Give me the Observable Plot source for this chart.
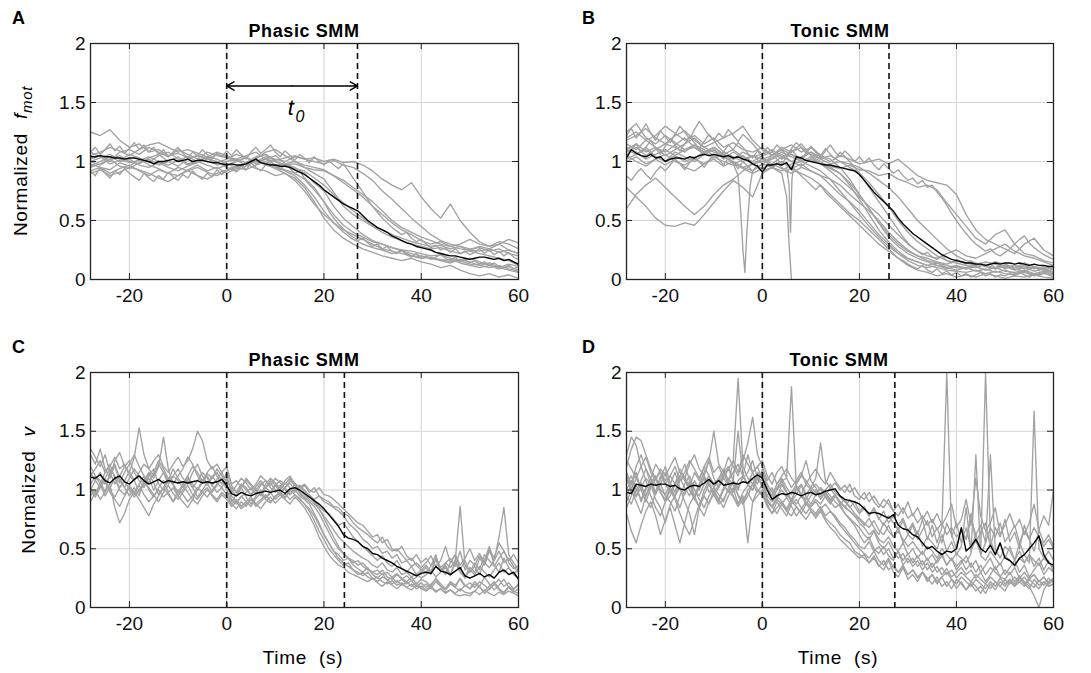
<!DOCTYPE html>
<html><head><meta charset="utf-8">
<script src="https://cdn.jsdelivr.net/npm/d3@7"></script>
<script src="https://cdn.jsdelivr.net/npm/@observablehq/plot@0.6"></script>
<style>
body{margin:0;background:#fff;}
#fig{position:relative;width:1091px;height:673px;font-family:"Liberation Sans",Arial,sans-serif;}
.panel{position:absolute;}
#overlay{position:absolute;left:0;top:0;pointer-events:none;}
#overlay text{font-family:"Liberation Sans",Arial,sans-serif;fill:#000;}
</style></head>
<body><div id="fig"></div>
<script>
// ---------- sample times ----------
const T2 = [-28,-26,-24,-22,-20,-18,-16,-14,-12,-10,-8,-6,-4,-2,0,2,4,6,8,10,12,14,16,18,20,22,24,26,28,30,32,34,36,38,40,42,44,46,48,50,52,54,56,58,60];
const T1 = [-28,-27,-26,-25,-24,-23,-22,-21,-20,-19,-18,-17,-16,-15,-14,-13,-12,-11,-10,-9,-8,-7,-6,-5,-4,-3,-2,-1,0,1,2,3,4,5,6,7,8,9,10,11,12,13,14,15,16,17,18,19,20,21,22,23,24,25,26,27,28,29,30,31,32,33,34,35,36,37,38,39,40,41,42,43,44,45,46,47,48,49,50,51,52,53,54,55,56,57,58,59,60];

// ---------- axis ticks & annotations ----------
const xTicks = [-20,0,20,40,60];
const yTicks = [0,0.5,1,1.5,2];
const xGrid = [-20,0,20,40];
const yGrid = [0.5,1,1.5];
const onsetA = [0, 26.9], onsetB = [0, 26.1], onsetC = [0, 24.2], onsetD = [0, 27.3];
const arrowLevel = 1.64;
const t0Label = {x: 13.2, y: 1.45};

// ---------- Panel A: Phasic SMM, normalized f_mot ----------
const meanA = [1.04,1.04,1.05,1.04,1.04,1.03,1.03,1.02,1.03,
1.03,1.02,1.01,1.00,0.98,1.00,1.00,1.01,1.02,1.00,
1.01,1.02,1.00,1.01,1.01,1.00,0.99,0.99,0.98,0.97,
0.98,0.97,0.97,0.98,1.00,1.02,0.99,0.98,0.97,0.97,
0.96,0.96,0.95,0.93,0.91,0.89,0.86,0.83,0.80,0.76,
0.73,0.70,0.67,0.64,0.62,0.60,0.58,0.54,0.50,0.47,
0.44,0.42,0.40,0.37,0.35,0.33,0.31,0.30,0.28,0.27,
0.26,0.25,0.23,0.22,0.21,0.20,0.20,0.19,0.18,0.17,
0.18,0.19,0.19,0.18,0.17,0.18,0.16,0.17,0.15,0.13];
const grayA = [
[1.25,1.22,1.27,1.18,1.12, 1.15,1.08,1.10,1.05,1.07, 1.03,1.05,1.02,1.06,1.04, 1.02,1.05,1.08,1.02,1.05, 0.98,0.95,0.90,0.82,0.75, 0.62,0.52,0.45,0.38,0.33, 0.30,0.27,0.24,0.22,0.20, 0.18,0.17,0.15,0.16,0.13, 0.12,0.10,0.12,0.09,0.07],
[1.00,0.97,1.02,1.05,1.00, 0.98,1.03,1.06,1.00,0.96, 1.02,1.05,1.03,0.99,1.02, 1.06,1.03,1.00,1.04,1.02, 1.00,1.04,1.02,1.03,1.00, 1.02,0.99,1.00,0.97,0.92, 0.85,0.80,0.76,0.82,0.70, 0.60,0.52,0.64,0.50,0.40, 0.32,0.28,0.30,0.25,0.22],
[0.95,0.98,1.02,0.96,0.94, 0.99,1.02,0.97,1.00,1.04, 0.98,1.01,1.03,0.97,1.00, 1.02,0.99,1.04,1.06,1.01, 1.03,1.05,1.02,1.00,0.98, 1.01,0.97,0.95,0.90,0.84, 0.75,0.68,0.60,0.52,0.45, 0.38,0.33,0.30,0.28,0.26, 0.27,0.24,0.26,0.22,0.20],
[1.02,1.05,1.00,1.08,1.10, 1.06,1.12,1.08,1.04,1.10, 1.06,1.02,1.08,1.05,1.03, 1.00,1.04,0.98,1.02,1.00, 0.97,0.98,0.95,0.93,0.92, 0.88,0.84,0.78,0.72,0.66, 0.58,0.50,0.44,0.40,0.36, 0.33,0.30,0.28,0.26,0.25, 0.24,0.26,0.23,0.25,0.22],
[0.92,0.95,0.90,0.94,0.97, 0.92,0.88,0.93,0.90,0.95, 0.92,0.88,0.85,0.90,0.93, 0.96,0.98,0.94,0.92,0.88, 0.90,0.86,0.78,0.66,0.52, 0.42,0.35,0.30,0.26,0.23, 0.20,0.18,0.16,0.18,0.15, 0.13,0.10,0.12,0.08,0.05, 0.03,0.05,0.02,0.04,0.01],
[0.98,0.95,0.93,0.99,0.96, 1.02,0.97,0.94,0.90,0.88, 0.93,0.97,0.92,0.95,0.90, 0.94,0.98,1.01,0.97,0.95, 0.92,0.88,0.80,0.70,0.58, 0.48,0.40,0.34,0.30,0.27, 0.25,0.22,0.24,0.20,0.18, 0.19,0.16,0.14,0.17,0.15, 0.12,0.14,0.10,0.08,0.06],
[1.05,1.08,1.12,1.09,1.05, 1.10,1.14,1.16,1.12,1.08, 1.10,1.07,1.04,1.02,0.98, 0.95,0.99,1.02,1.08,1.10, 1.05,1.00,0.95,0.90,0.85, 0.74,0.62,0.55,0.50,0.45, 0.40,0.36,0.33,0.30,0.28, 0.26,0.27,0.24,0.22,0.25, 0.28,0.26,0.30,0.34,0.31],
[0.90,0.93,0.88,0.91,0.95, 0.93,0.90,0.86,0.83,0.88, 0.92,0.95,0.91,0.88,0.92, 0.95,0.93,0.97,1.00,0.96, 0.93,0.90,0.85,0.76,0.66, 0.55,0.46,0.40,0.36,0.32, 0.30,0.27,0.25,0.24,0.22, 0.20,0.21,0.18,0.16,0.18, 0.15,0.12,0.10,0.13,0.11],
[1.08,1.04,0.98,1.01,1.06, 1.03,0.99,1.05,1.08,1.02, 0.97,1.00,1.04,1.08,1.05, 1.01,0.97,1.03,1.06,1.00, 0.97,0.94,0.92,0.86,0.80, 0.72,0.65,0.58,0.52,0.46, 0.42,0.38,0.35,0.32,0.30, 0.28,0.29,0.26,0.28,0.24, 0.22,0.20,0.18,0.16,0.12],
[0.96,1.00,1.04,1.00,1.02, 0.97,0.95,0.99,0.95,0.92, 0.96,0.99,1.02,1.00,0.95, 0.92,0.96,1.00,0.98,0.94, 0.90,0.84,0.75,0.64,0.55, 0.48,0.42,0.38,0.34,0.30, 0.26,0.24,0.22,0.20,0.19, 0.18,0.16,0.17,0.14,0.12, 0.10,0.12,0.09,0.11,0.08],
[1.00,1.03,1.06,1.02,0.99, 1.01,1.04,1.00,0.97,1.01, 1.04,1.00,0.97,0.94,0.97, 1.00,1.03,1.00,1.02,0.97, 0.98,1.00,0.97,0.95,0.93, 0.88,0.82,0.76,0.70,0.62, 0.55,0.48,0.42,0.38,0.33, 0.30,0.32,0.28,0.30,0.34, 0.30,0.28,0.32,0.30,0.26]
];
const grayA1s = [
[0.92,0.88,0.95,0.90,0.86,0.92,0.89,0.94,0.90, 0.87,0.84,0.90,0.86,0.83,0.88,0.85,0.91,0.87,0.84, 0.89,0.86,0.92,0.88,0.85,0.90,0.87,0.93,0.89,0.92, 0.95,0.91,0.97,0.93,0.99,0.95,0.92,0.97,1.01,0.96, 0.93,0.98,0.94,0.90,0.92,0.86,0.82,0.78,0.72,0.66, 0.58,0.52,0.47,0.43,0.39,0.36,0.33,0.35,0.31,0.28, 0.30,0.26,0.28,0.24,0.22,0.25,0.21,0.19,0.22,0.18, 0.20,0.17,0.19,0.21,0.18,0.16,0.19,0.15,0.17,0.14, 0.16,0.13,0.15,0.12,0.14,0.11,0.10,0.12,0.09,0.11],
[1.08,1.12,1.06,1.10,1.15,1.09,1.13,1.07,1.11, 1.16,1.10,1.14,1.08,1.12,1.06,1.10,1.04,1.08,1.12, 1.07,1.03,1.08,1.05,1.10,1.06,1.02,1.07,1.04,1.09, 1.05,1.10,1.06,1.02,1.08,1.12,1.07,1.10,1.14,1.08, 1.04,1.09,1.05,1.01,1.06,1.03,0.99,1.04,1.00,0.97, 1.01,0.97,0.94,0.98,0.92,0.86,0.80,0.74,0.68,0.62, 0.57,0.52,0.48,0.44,0.41,0.38,0.40,0.35,0.32,0.34, 0.30,0.27,0.29,0.25,0.27,0.23,0.26,0.22,0.24,0.21, 0.23,0.26,0.22,0.25,0.21,0.24,0.20,0.23,0.19,0.17]
];

// ---------- Panel B: Tonic SMM, normalized f_mot ----------
const meanB = [1.03,1.10,1.07,1.05,1.04,1.06,1.03,1.04,1.00,
1.02,1.03,1.03,1.02,1.04,1.03,1.05,1.06,1.05,1.06,
1.05,1.04,1.05,1.03,1.04,1.02,1.01,0.98,0.96,0.91,
0.97,0.97,0.98,0.97,0.99,0.93,1.04,1.03,1.01,1.00,
0.99,0.98,0.97,0.97,0.96,0.95,0.94,0.93,0.92,0.89,
0.84,0.79,0.74,0.70,0.66,0.62,0.58,0.52,0.47,0.43,
0.39,0.36,0.33,0.30,0.27,0.24,0.21,0.19,0.17,0.16,
0.15,0.14,0.14,0.13,0.13,0.12,0.13,0.14,0.13,0.14,
0.14,0.13,0.14,0.13,0.12,0.13,0.12,0.12,0.11,0.11];
const grayB = [
[1.20,1.25,1.18,1.22,1.30, 1.24,1.18,1.22,1.15,1.20, 1.12,1.16,1.10,1.08,1.12, 1.05,1.10,1.14,1.08,1.12, 1.05,1.02,0.95,0.85,0.72, 0.60,0.48,0.38,0.30,0.24, 0.20,0.16,0.14,0.12,0.10, 0.09,0.11,0.08,0.10,0.07, 0.06,0.08,0.05,0.07,0.06],
[0.60,0.72,0.80,0.86,0.78, 0.70,0.62,0.55,0.62,0.72, 0.80,0.85,0.92,0.98,1.02, 0.98,1.04,1.00,0.96,1.02, 0.98,0.94,0.90,0.82,0.72, 0.60,0.48,0.36,0.28,0.22, 0.18,0.15,0.12,0.10,0.08, 0.10,0.07,0.09,0.06,0.08, 0.05,0.07,0.04,0.06,0.05],
[0.78,0.70,0.62,0.52,0.46, 0.45,0.48,0.46,0.55,0.65, 0.75,0.84,0.78,0.70,0.90, 0.95,0.92,0.98,1.00,0.96, 0.92,0.85,0.75,0.65,0.55, 0.45,0.36,0.28,0.22,0.18, 0.15,0.12,0.14,0.10,0.12, 0.09,0.11,0.08,0.10,0.12, 0.09,0.07,0.10,0.08,0.06],
[1.10,1.15,1.08,1.12,1.05, 1.10,1.15,1.20,1.12,1.08, 1.05,0.98,0.95,0.92,0.98, 1.02,1.06,1.00,1.04,1.08, 1.02,1.05,1.00,0.98,0.95, 0.90,0.84,0.78,0.70,0.60, 0.50,0.42,0.34,0.26,0.20, 0.16,0.14,0.12,0.15,0.13, 0.10,0.12,0.09,0.11,0.08],
[1.08,1.12,1.05,1.10,1.15, 1.12,1.08,1.14,1.10,1.05, 1.08,1.04,1.00,1.05,1.02, 1.05,1.10,1.06,1.02,1.08, 1.04,1.00,1.05,1.02,0.98, 1.00,1.02,0.98,1.02,0.95, 0.88,0.84,0.82,0.80,0.72, 0.55,0.42,0.34,0.30,0.26, 0.22,0.30,0.35,0.25,0.20],
[1.02,1.06,1.10,1.04,1.00, 1.05,1.10,1.12,1.08,1.03, 1.06,1.02,1.05,0.98,1.00, 1.03,1.08,1.04,1.00,1.02, 0.98,0.96,0.94,0.97,0.93, 0.92,0.88,0.90,0.85,0.82, 0.78,0.80,0.76,0.65,0.55, 0.45,0.35,0.30,0.38,0.42, 0.30,0.22,0.20,0.16,0.14],
[1.12,1.08,1.02,1.06,1.10, 1.05,1.00,1.03,1.08,1.12, 1.06,1.02,1.08,1.04,1.06, 1.10,1.04,1.08,1.12,1.06, 1.02,0.98,1.00,0.95,0.90, 0.82,0.72,0.62,0.50,0.40, 0.32,0.26,0.20,0.16,0.14, 0.12,0.10,0.13,0.09,0.11, 0.08,0.10,0.07,0.09,0.06],
[1.05,1.00,0.96,1.02,1.06, 1.00,0.97,1.02,0.98,1.04, 1.00,0.97,1.02,1.05,0.98, 0.95,1.00,0.94,0.90,0.86, 0.80,0.72,0.64,0.56,0.50, 0.42,0.34,0.26,0.18,0.12, 0.08,0.06,0.03,0.05,0.02, 0.04,0.02,0.05,0.03,0.01, 0.03,0.02,0.04,0.02,0.01],
[1.18,1.22,1.28,1.20,1.15, 1.22,1.26,1.18,1.12,1.16, 1.20,1.24,1.30,1.18,1.10, 1.05,1.12,1.08,1.15,1.05, 1.00,0.95,0.90,0.80,0.68, 0.55,0.42,0.32,0.24,0.18, 0.15,0.12,0.10,0.08,0.07, 0.06,0.08,0.05,0.07,0.05, 0.04,0.06,0.03,0.05,0.04],
[1.00,1.04,0.98,1.02,0.97, 1.02,0.95,0.92,0.98,1.02, 0.96,1.00,0.94,0.90,0.94, 0.98,0.94,0.90,0.95,0.92, 0.88,0.85,0.80,0.72,0.65, 0.58,0.50,0.40,0.32,0.25, 0.20,0.18,0.15,0.13,0.16, 0.14,0.12,0.15,0.13,0.10, 0.12,0.09,0.11,0.08,0.10],
[1.25,1.32,1.20,1.15,1.22, 1.16,1.10,1.14,1.08,1.12, 1.06,1.10,1.04,1.00,1.05, 1.08,1.02,1.06,1.00,1.04, 0.98,0.92,0.85,0.78,0.70, 0.62,0.55,0.46,0.38,0.30, 0.24,0.20,0.18,0.22,0.25, 0.20,0.18,0.22,0.26,0.30, 0.24,0.20,0.18,0.15,0.12],
[1.10,1.06,1.12,1.04,1.00, 1.08,1.04,1.00,1.06,1.10, 1.02,1.08,1.03,0.98,1.02, 0.96,1.00,0.94,0.98,0.92, 0.88,0.80,0.72,0.66,0.58, 0.48,0.38,0.30,0.22,0.16, 0.12,0.10,0.12,0.09,0.11, 0.10,0.13,0.11,0.09,0.12, 0.10,0.14,0.11,0.09,0.12]
];
const grayB1s = [
[1.22,1.28,1.20,1.25,1.32,1.24,1.18,1.26,1.21, 1.16,1.23,1.30,1.25,1.19,1.27,1.34,1.28,1.22,1.18, 1.24,1.20,1.27,1.22,1.17,1.23,1.19,1.15,1.10,1.06, 1.12,1.08,1.14,1.10,1.05,1.11,1.16,1.12,1.07,1.13, 1.09,1.05,1.11,1.06,1.02,1.08,1.04,1.00,0.95,0.90, 0.84,0.78,0.72,0.66,0.60,0.54,0.48,0.42,0.36,0.31, 0.27,0.24,0.21,0.23,0.19,0.17,0.20,0.16,0.14,0.17, 0.15,0.13,0.16,0.12,0.14,0.11,0.13,0.10,0.12,0.09, 0.11,0.08,0.10,0.12,0.09,0.11,0.08,0.10,0.07,0.09],
[1.05,1.10,1.15,1.08,1.12,1.18,1.11,1.06,1.13, 1.19,1.14,1.09,1.15,1.21,1.16,1.11,1.17,1.23,1.18, 1.12,1.08,1.14,1.10,1.16,1.12,1.07,1.03,1.09,1.04, 1.00,1.06,1.02,0.98,1.04,1.10,1.05,1.01,1.07,1.12, 1.08,1.03,1.09,1.14,1.08,1.04,1.09,1.05,1.00,1.04, 0.99,1.03,0.97,0.93,0.98,0.94,0.90,0.93,0.88,0.84, 0.86,0.81,0.84,0.78,0.80,0.74,0.69,0.63,0.56,0.50, 0.44,0.39,0.34,0.30,0.27,0.24,0.26,0.22,0.20,0.23, 0.26,0.30,0.34,0.37,0.31,0.27,0.24,0.21,0.19,0.17],
[0.88,0.84,0.90,0.94,0.89,0.85,0.91,0.96,0.92, 0.97,1.02,0.98,0.93,0.99,1.04,1.00,0.95,1.01,1.06, 1.02,0.97,1.03,0.99,0.94,1.00,0.96,0.92,0.97,0.93, 0.98,0.94,0.99,0.95,0.91,0.96,0.92,0.88,0.84,0.80, 0.76,0.80,0.74,0.70,0.66,0.62,0.58,0.54,0.50,0.46, 0.42,0.38,0.34,0.30,0.27,0.24,0.21,0.18,0.16,0.13, 0.11,0.09,0.12,0.08,0.06,0.09,0.05,0.07,0.04,0.06, 0.03,0.05,0.02,0.04,0.06,0.03,0.05,0.02,0.04,0.03, 0.05,0.03,0.06,0.04,0.02,0.05,0.03,0.06,0.04,0.02]
];
// traces of panel B sampled at their own times
const extraBTimes = [
[-28,-26,-24,-22,-20,-18,-16,-14,-12,-10,-8,-6,-4,-2,0,2,4,5,5.5,6],
[-6,-5,-4.5,-4,-3.6,-3.2,-2.5,-2],
[5,5.5,5.8,6.1,6.5]
];
const extraBValues = [
[1.15,1.10,1.18,1.12,1.08,1.14,1.20,1.12,1.06,1.10,1.04,1.00,0.95,0.98,0.92,0.95,0.90,0.70,0.30,0.00],
[0.98,0.88,0.60,0.25,0.06,0.40,0.80,0.92],
[0.95,0.80,0.40,0.85,0.98]
];

// ---------- Panel C: Phasic SMM, normalized v ----------
const meanC = [1.11,1.10,1.13,1.08,1.06,1.10,1.12,1.07,1.05,
1.09,1.12,1.08,1.05,1.07,1.09,1.06,1.08,1.07,1.06,
1.07,1.06,1.07,1.08,1.06,1.07,1.06,1.07,1.09,1.04,
0.97,0.95,0.98,0.96,0.95,0.97,0.98,0.99,0.98,0.99,
1.00,0.97,1.01,1.02,1.00,0.97,0.94,0.91,0.88,0.84,
0.79,0.74,0.69,0.62,0.59,0.58,0.56,0.52,0.50,0.46,
0.45,0.42,0.40,0.38,0.35,0.33,0.31,0.29,0.27,0.29,
0.30,0.29,0.35,0.31,0.30,0.28,0.31,0.34,0.27,0.25,
0.27,0.29,0.26,0.28,0.25,0.30,0.32,0.28,0.30,0.24];
const grayC = [
[1.30,1.22,1.35,1.18,1.10,1.25,1.32,1.20,1.15, 1.28,1.53,1.30,1.18,1.12,1.22,1.15,1.08,1.18,1.10, 1.05,1.12,1.20,1.15,1.08,1.14,1.10,1.18,1.12,1.08, 1.02,0.98,1.05,1.00,0.96,1.03,1.08,1.02,0.98,1.05, 1.00,1.06,1.02,0.98,1.04,1.00,0.95,0.90,0.84,0.76, 0.68,0.60,0.52,0.46,0.42,0.38,0.40,0.35,0.32,0.30, 0.28,0.32,0.26,0.24,0.28,0.25,0.22,0.26,0.20,0.24, 0.22,0.18,0.25,0.20,0.16,0.22,0.19,0.24,0.18,0.21, 0.17,0.22,0.19,0.15,0.20,0.24,0.18,0.21,0.16,0.19],
[1.05,1.12,1.08,0.98,1.15,1.22,1.10,1.02,0.95, 1.02,0.95,1.08,1.15,1.10,1.20,1.45,1.18,1.05,0.98, 1.05,1.12,1.02,1.08,1.15,1.10,1.04,1.09,1.15,1.05, 0.92,0.88,0.95,0.90,0.86,0.93,0.97,0.92,0.89,0.95, 0.98,0.94,1.00,0.96,0.92,0.88,0.82,0.74,0.65,0.58, 0.50,0.45,0.40,0.36,0.38,0.32,0.30,0.27,0.30,0.25, 0.22,0.26,0.24,0.20,0.23,0.19,0.22,0.18,0.21,0.17, 0.20,0.16,0.22,0.18,0.15,0.20,0.17,0.14,0.19,0.16, 0.20,0.17,0.14,0.18,0.22,0.16,0.13,0.18,0.15,0.20],
[0.95,1.00,0.92,0.98,1.05,0.85,0.72,0.80,0.92, 0.98,1.04,0.96,0.90,0.95,1.00,0.94,0.98,1.02,0.95, 0.90,0.85,0.92,0.88,0.95,1.00,0.96,0.92,0.98,0.94, 0.88,0.92,0.86,0.90,0.94,0.88,0.92,0.96,0.90,0.94, 0.98,1.02,0.96,1.00,0.95,0.92,0.88,0.80,0.72,0.62, 0.55,0.48,0.42,0.38,0.35,0.32,0.28,0.30,0.26,0.24, 0.26,0.22,0.20,0.23,0.19,0.21,0.17,0.20,0.16,0.18, 0.15,0.18,0.14,0.16,0.13,0.15,0.12,0.16,0.13,0.12, 0.14,0.11,0.15,0.12,0.10,0.13,0.11,0.14,0.12,0.10],
[1.12,1.18,1.25,1.15,1.20,1.28,1.18,1.22,1.12, 1.08,1.15,1.22,1.18,1.25,1.30,1.20,1.15,1.22,1.28, 1.20,1.25,1.35,1.50,1.42,1.25,1.18,1.22,1.15,1.20, 1.05,1.08,1.02,1.10,1.05,1.00,1.06,1.02,1.08,1.04, 1.08,1.05,1.10,1.06,1.02,1.05,1.00,0.98,1.02,0.96, 0.95,0.92,0.88,0.84,0.80,0.76,0.72,0.70,0.65,0.60, 0.62,0.55,0.58,0.50,0.48,0.52,0.44,0.40,0.45,0.38, 0.42,0.36,0.40,0.34,0.38,0.42,0.35,0.48,0.32,0.40, 0.36,0.44,0.38,0.34,0.40,0.48,0.38,0.42,0.35,0.30],
[1.00,1.08,1.15,1.05,1.12,1.20,1.08,1.02,1.10, 1.18,1.12,1.05,1.10,1.00,1.08,1.15,1.05,1.12,1.08, 1.02,1.10,1.05,1.00,1.08,1.04,1.12,1.06,1.02,1.10, 1.00,0.95,1.02,1.08,1.04,1.00,0.96,1.05,1.10,1.06, 1.02,1.08,1.12,1.05,1.00,1.04,0.98,1.02,0.95,0.92, 0.90,0.86,0.85,0.80,0.78,0.72,0.68,0.65,0.62,0.58, 0.55,0.60,0.52,0.48,0.50,0.45,0.40,0.42,0.36,0.32, 0.30,0.35,0.45,0.30,0.38,0.34,0.40,0.86,0.36,0.30, 0.38,0.32,0.45,0.40,0.35,0.42,0.48,0.38,0.33,0.36],
[0.90,0.98,1.05,0.95,1.02,1.10,1.00,0.96,1.04, 0.98,0.92,0.85,0.78,0.88,0.95,1.02,0.96,0.90,1.00, 0.96,0.90,0.95,1.02,0.98,0.94,1.00,1.05,1.10,1.02, 0.95,0.90,0.94,0.98,1.02,0.97,1.04,1.08,1.02,0.98, 1.04,1.00,0.96,1.02,0.98,0.94,0.90,0.86,0.80,0.72, 0.64,0.56,0.50,0.46,0.42,0.40,0.36,0.38,0.33,0.30, 0.32,0.28,0.30,0.26,0.29,0.24,0.27,0.23,0.26,0.30, 0.34,0.28,0.42,0.30,0.36,0.28,0.40,0.32,0.26,0.34, 0.30,0.42,0.36,0.48,0.40,0.60,0.85,0.45,0.38,0.32],
[1.02,0.96,1.05,1.10,1.00,0.94,1.02,1.08,1.00, 0.94,1.00,1.06,1.02,0.96,0.90,0.98,1.04,0.97,0.92, 0.98,1.04,0.96,0.92,0.98,1.02,0.95,0.90,0.96,0.92, 0.86,0.90,0.84,0.88,0.92,0.86,0.90,0.94,0.98,0.92, 0.96,0.92,0.88,0.94,0.90,0.85,0.78,0.70,0.60,0.52, 0.45,0.40,0.36,0.34,0.30,0.28,0.26,0.24,0.22,0.25, 0.21,0.18,0.22,0.19,0.16,0.20,0.17,0.15,0.19,0.16, 0.14,0.17,0.13,0.16,0.12,0.15,0.11,0.10,0.11,0.10, 0.14,0.18,0.12,0.16,0.20,0.15,0.12,0.17,0.14,0.12],
[1.35,1.28,1.20,1.30,1.15,1.05,1.12,1.20,1.25, 1.15,1.08,1.02,1.12,1.18,1.05,1.00,1.08,1.12,1.18, 1.10,1.05,1.15,1.22,1.12,1.05,1.10,1.15,1.08,1.12, 0.98,1.04,1.10,1.06,1.00,1.05,1.12,1.08,1.04,1.10, 1.06,1.02,1.08,1.04,1.00,0.96,0.92,0.88,0.84,0.78, 0.72,0.66,0.60,0.56,0.52,0.48,0.45,0.42,0.40,0.36, 0.34,0.38,0.32,0.30,0.34,0.28,0.30,0.26,0.29,0.25, 0.28,0.32,0.26,0.30,0.34,0.27,0.38,0.30,0.25,0.32, 0.28,0.35,0.30,0.26,0.32,0.38,0.30,0.34,0.28,0.25],
[1.15,1.08,1.02,1.10,1.18,1.12,1.06,1.15,1.22, 1.30,1.20,1.12,1.06,1.15,1.25,1.18,1.10,1.05,1.12, 1.18,1.28,1.22,1.12,1.06,1.15,1.20,1.12,1.05,1.15, 1.04,0.98,1.05,1.02,0.96,1.00,0.95,1.02,1.06,1.00, 0.96,1.02,1.06,1.00,1.04,0.98,0.96,0.92,0.95,0.90, 0.88,0.85,0.82,0.78,0.72,0.68,0.64,0.58,0.55,0.50, 0.52,0.46,0.48,0.42,0.45,0.38,0.40,0.35,0.38,0.34, 0.38,0.44,0.35,0.40,0.52,0.38,0.45,0.36,0.42,0.50, 0.40,0.46,0.38,0.50,0.42,0.55,0.48,0.40,0.45,0.38],
[1.20,1.12,1.05,1.15,1.22,1.10,1.02,1.08,1.16, 1.08,0.98,1.05,1.14,1.06,0.96,1.02,1.10,1.04,0.95, 1.00,1.08,1.02,0.94,1.00,1.06,0.98,1.04,1.10,1.00, 0.90,0.96,1.02,0.94,0.88,0.95,1.00,0.93,0.97,1.04, 0.98,0.93,0.99,1.05,0.97,0.92,0.95,0.90,0.86,0.82, 0.80,0.75,0.70,0.72,0.66,0.60,0.56,0.52,0.48,0.44, 0.40,0.44,0.38,0.35,0.40,0.33,0.30,0.35,0.28,0.32, 0.36,0.30,0.42,0.34,0.28,0.38,0.45,0.32,0.40,0.30, 0.35,0.28,0.40,0.52,0.36,0.30,0.42,0.34,0.28,0.33],
[1.00,0.94,1.02,1.08,0.98,0.92,0.86,0.95,1.02, 0.96,1.05,1.12,1.00,0.94,1.02,1.08,0.98,0.90,0.96, 1.04,0.98,0.92,1.00,1.06,1.12,1.04,0.98,1.02,0.96, 0.88,0.84,0.90,0.86,0.92,0.88,0.84,0.90,0.94,0.89, 0.93,0.97,0.92,0.96,0.93,0.88,0.84,0.78,0.70,0.62, 0.55,0.48,0.45,0.40,0.42,0.36,0.33,0.30,0.34,0.28, 0.25,0.29,0.23,0.26,0.21,0.24,0.20,0.23,0.18,0.21, 0.17,0.20,0.24,0.18,0.15,0.21,0.17,0.25,0.19,0.16, 0.22,0.18,0.26,0.20,0.15,0.19,0.24,0.17,0.13,0.16]
];

// ---------- Panel D: Tonic SMM, normalized v ----------
const meanD = [0.98,0.97,1.05,1.04,1.03,1.05,1.04,1.05,1.05,
1.03,1.04,1.01,1.00,1.03,1.04,1.03,1.06,1.09,1.05,
1.08,1.04,1.05,1.06,1.05,1.07,1.06,1.10,1.13,1.10,
1.00,0.92,0.95,0.97,0.96,0.98,0.97,0.95,0.97,0.98,
0.96,0.97,0.99,1.00,1.01,0.95,0.92,0.91,0.90,0.88,
0.84,0.80,0.81,0.80,0.78,0.76,0.79,0.70,0.67,0.66,
0.62,0.60,0.55,0.50,0.52,0.48,0.45,0.48,0.47,0.50,
0.68,0.48,0.52,0.58,0.50,0.47,0.53,0.45,0.55,0.42,
0.40,0.36,0.42,0.45,0.50,0.55,0.61,0.45,0.38,0.36];
const grayD = [
[1.20,1.35,1.45,1.42,1.30,1.18,1.10,1.15,1.08, 1.12,1.05,1.18,1.10,1.02,1.15,1.08,1.20,1.12,1.05, 1.10,1.18,1.08,1.15,1.22,1.12,1.05,1.15,1.20,1.08, 0.95,1.02,0.92,1.05,0.98,0.90,1.02,0.96,0.88,0.95, 1.00,0.92,0.98,0.90,0.85,0.88,0.80,0.75,0.70,0.62, 0.55,0.60,0.50,0.46,0.52,0.44,0.40,0.48,0.36,0.42, 0.35,0.40,0.32,0.38,0.30,0.35,0.28,0.33,0.26,0.30, 0.34,0.28,0.32,0.25,0.30,0.22,0.28,0.35,0.26,0.24, 0.30,0.22,0.27,0.20,0.25,0.28,0.22,0.26,0.20,0.24],
[0.85,0.95,1.05,0.90,1.00,1.10,0.98,1.05,1.15, 1.02,0.95,1.08,1.12,1.00,0.92,1.05,1.10,0.98,1.02, 1.08,1.15,1.05,1.25,1.95,1.20,1.10,1.05,1.15,1.12, 1.02,0.95,1.00,1.05,0.98,0.92,1.00,1.05,0.96,1.02, 0.98,0.94,1.00,0.95,0.90,0.86,0.80,0.76,0.72,0.68, 0.62,0.58,0.65,0.55,0.50,0.56,0.48,0.42,0.46,0.38, 0.42,0.35,0.40,0.32,0.38,0.30,0.34,0.28,0.32,0.25, 0.30,0.26,0.22,0.28,0.24,0.20,0.26,0.22,0.18,0.24, 0.20,0.26,0.22,0.18,0.24,0.20,0.16,0.22,0.18,0.20],
[1.10,1.00,0.90,0.80,0.95,1.05,0.92,0.85,0.72, 0.88,0.95,1.02,0.90,0.80,0.62,0.85,0.95,0.88,1.00, 0.92,0.85,0.95,1.02,0.88,0.95,0.55,0.90,1.00,0.95, 0.90,0.85,0.92,0.88,0.82,0.90,0.86,0.80,0.88,0.84, 0.80,0.86,0.78,0.82,0.76,0.70,0.65,0.60,0.55,0.50, 0.46,0.42,0.48,0.40,0.36,0.42,0.34,0.30,0.36,0.28, 0.32,0.25,0.30,0.22,0.28,0.20,0.26,0.18,0.24,0.16, 0.22,0.15,0.20,0.14,0.18,0.12,0.20,0.15,0.22,0.18, 0.24,0.20,0.26,0.22,0.18,0.10,0.00,0.15,0.22,0.25],
[1.25,1.18,1.10,1.20,1.28,1.15,1.08,1.18,1.12, 1.20,1.28,1.15,1.10,1.22,1.30,1.18,1.12,1.25,1.50, 1.22,1.15,1.28,1.20,1.12,1.25,1.40,1.62,1.30,1.20, 1.08,1.15,1.05,1.12,1.18,1.10,1.05,1.12,1.08,1.02, 1.10,1.40,1.08,1.02,1.06,1.00,1.04,0.98,1.02,0.95, 0.92,0.98,0.90,0.85,0.92,0.88,0.82,0.78,0.85,0.76, 0.80,0.72,0.78,0.70,0.75,0.66,0.72,0.62,0.68,0.60, 0.65,0.58,0.75,0.62,0.70,0.55,0.68,0.60,0.72,0.56, 0.62,0.70,0.55,0.65,0.58,0.68,0.60,0.52,0.58,0.50],
[1.00,1.08,0.95,1.02,1.10,1.05,0.98,1.12,1.05, 0.98,1.05,1.10,1.02,0.95,1.08,1.00,1.12,1.05,0.96, 1.02,1.10,1.05,0.98,1.08,1.12,1.04,1.00,1.10,1.15, 1.05,0.98,1.02,1.08,1.10,1.88,1.02,0.96,1.05,1.00, 0.95,1.02,0.98,0.92,0.96,0.90,0.85,0.82,0.78,0.72, 0.68,0.62,0.66,0.58,0.55,0.60,0.52,0.48,0.55,0.45, 0.50,0.42,0.48,0.40,0.45,0.38,0.44,0.36,0.42,0.35, 0.40,0.32,0.38,0.30,0.36,0.28,0.34,0.30,0.26,0.32, 0.28,0.34,0.25,0.30,0.24,0.28,0.22,0.26,0.20,0.24],
[0.95,0.88,1.00,1.06,0.92,0.85,0.98,1.05,0.95, 0.90,0.82,0.95,1.05,1.12,1.00,0.92,0.85,0.95,1.02, 0.96,0.90,1.02,1.08,0.95,0.88,1.00,1.05,0.98,1.05, 0.92,0.86,0.95,0.90,0.84,0.92,0.88,0.95,0.90,0.86, 0.92,0.88,0.95,0.90,0.96,0.88,0.92,0.85,0.90,0.82, 0.86,0.78,0.84,0.75,0.82,0.72,0.78,0.70,0.76,0.65, 0.72,0.62,0.75,0.58,0.70,0.55,0.68,2.00,0.60,0.72, 0.55,0.68,0.50,0.62,0.48,2.00,0.58,0.45,0.55,0.42, 0.52,0.40,0.48,0.38,0.45,0.35,0.42,0.32,0.40,0.30],
[1.05,1.12,1.00,0.92,1.02,1.10,1.05,0.98,0.90, 0.95,1.05,1.12,1.08,1.00,0.94,1.02,1.10,1.05,0.98, 1.04,1.12,1.18,1.08,1.02,1.10,1.15,1.25,1.10,1.05, 0.95,0.90,0.96,1.00,0.94,0.98,1.04,0.96,0.92,1.00, 1.05,1.00,0.96,1.02,0.95,0.90,0.86,0.82,0.78,0.75, 0.70,0.76,0.68,0.62,0.72,0.65,0.60,0.68,0.55,0.62, 0.58,0.65,0.52,0.60,0.55,0.50,0.62,0.48,0.56,0.45, 0.52,0.85,0.48,0.58,0.45,0.55,1.30,0.50,0.42,0.52, 0.48,0.40,0.55,0.45,0.38,1.67,0.50,0.42,0.48,0.40],
[0.80,0.65,0.55,0.70,0.82,0.90,0.78,0.62,0.75, 0.85,0.70,0.55,0.72,0.88,0.95,0.85,0.78,0.90,0.96, 0.88,0.92,1.00,0.94,0.86,0.92,0.98,0.90,0.95,1.00, 0.88,0.80,0.85,0.90,0.82,0.78,0.86,0.80,0.75,0.82, 0.78,0.84,0.76,0.72,0.68,0.62,0.58,0.55,0.48,0.45, 0.42,0.38,0.44,0.36,0.32,0.40,0.30,0.26,0.34,0.24, 0.28,0.22,0.30,0.25,0.20,0.26,0.18,0.22,0.16,0.24, 0.20,0.15,0.22,0.18,0.12,0.20,0.16,0.22,0.18,0.14, 0.22,0.18,0.25,0.20,0.16,0.24,0.19,0.22,0.18,0.20],
[1.15,1.05,1.20,1.30,1.18,1.10,1.22,1.15,1.05, 1.12,1.20,1.08,1.15,1.25,1.18,1.10,1.20,1.28,1.15, 1.20,1.10,1.18,1.25,1.15,1.30,1.22,1.15,1.20,1.25, 1.12,1.05,1.15,1.20,1.10,1.02,1.08,1.15,1.05,1.12, 1.18,1.10,1.05,1.15,1.08,1.02,0.98,1.05,0.95,0.92, 0.98,0.90,0.95,0.88,0.85,0.92,0.82,0.88,0.80,0.90, 0.78,0.85,0.75,0.82,0.72,0.80,0.70,0.78,0.88,0.68, 0.75,0.92,0.70,1.10,0.78,0.65,0.72,0.85,0.62,0.70, 0.80,0.68,0.75,0.62,0.72,0.88,0.66,0.78,0.70,1.00],
[0.90,1.00,1.10,1.02,0.95,1.05,1.12,1.00,0.96, 1.05,1.15,1.02,0.96,1.08,1.00,0.95,1.05,1.12,1.02, 1.10,1.05,0.98,1.08,1.50,1.12,1.05,1.00,1.10,1.08, 1.00,0.95,1.05,1.10,1.02,0.96,1.05,1.12,1.25,1.08, 1.02,0.96,1.00,1.05,0.98,0.94,0.90,0.86,0.80,0.76, 0.72,0.68,0.74,0.66,0.62,0.70,0.60,0.65,0.58,0.52, 0.56,0.50,0.45,0.52,0.48,0.42,0.50,0.45,0.40,0.46, 0.42,0.38,0.46,1.30,0.44,0.40,0.48,0.42,0.36,0.44, 0.40,0.35,0.42,0.38,0.45,0.40,0.36,0.42,0.38,0.34],
[1.12,1.02,0.94,1.08,1.18,1.05,0.96,1.10,1.20, 1.06,0.98,1.12,1.22,1.08,0.95,1.05,1.15,1.25,1.10, 1.02,1.14,1.20,1.08,1.00,1.12,1.30,1.15,1.05,1.18, 1.02,0.92,1.00,1.08,0.98,0.90,0.96,1.04,0.94,0.88, 0.96,1.02,0.94,0.88,0.95,0.90,0.85,0.92,0.86,0.80, 0.84,0.78,0.85,0.76,0.70,0.78,0.72,0.66,0.74,0.62, 0.70,0.58,0.66,0.74,0.60,0.68,0.55,0.72,0.62,0.50, 0.66,0.58,0.80,0.55,0.64,0.72,0.52,0.68,0.60,0.75, 0.56,0.64,0.50,0.70,0.58,0.48,0.66,0.55,0.62,0.52],
[0.95,1.05,1.15,1.00,0.90,1.02,1.10,0.98,0.92, 1.02,0.94,0.85,0.98,1.06,0.92,0.86,1.00,1.08,0.96, 0.90,1.00,1.06,0.95,0.88,0.98,1.04,1.10,1.00,0.96, 0.86,0.80,0.90,0.84,0.78,0.88,0.92,0.85,0.80,0.86, 0.90,0.84,0.88,0.82,0.78,0.72,0.68,0.62,0.58,0.52, 0.50,0.56,0.48,0.52,0.45,0.50,0.42,0.48,0.40,0.46, 0.38,0.44,0.36,0.42,0.34,0.40,0.46,0.36,0.42,0.32, 0.38,0.44,0.34,0.40,0.30,0.36,0.42,0.32,0.38,0.28, 0.34,0.40,0.30,0.36,0.26,0.32,0.38,0.28,0.34,0.30],
[1.30,1.45,1.38,1.20,1.08,0.95,0.85,0.78,0.90, 1.00,0.92,0.80,0.70,0.62,0.75,0.88,0.96,1.05,0.98, 0.92,1.02,1.10,1.04,0.96,0.88,0.95,1.05,1.12,1.02, 0.92,0.86,0.80,0.88,0.94,0.86,0.78,0.84,0.90,0.82, 0.76,0.82,0.74,0.68,0.64,0.58,0.54,0.50,0.46,0.42, 0.45,0.38,0.42,0.35,0.40,0.32,0.36,0.30,0.34,0.28, 0.32,0.26,0.30,0.24,0.28,0.22,0.26,0.30,0.24,0.20, 0.26,0.22,0.18,0.24,0.20,0.16,0.22,0.18,0.25,0.20, 0.24,0.18,0.22,0.26,0.20,0.17,0.23,0.19,0.25,0.21]
];

// ---------- helpers ----------
function rows(times, values, id) {
  return values.map((v, i) => ({t: times[i], v, id})).filter(d => d.t !== undefined);
}
function grayRows(groups) {
  const out = [];
  groups.forEach(([times, traces], g) => traces.forEach((tr, k) => {
    const tt = Array.isArray(times[0]) ? times[k] : times;
    out.push(...rows(tt, tr, g + "-" + k));
  }));
  return out;
}

const GRAY = "#a2a2a2";
function panel({width, height, mL, mR, mT, mB, gray, mean, onset, arrow}) {
  const ih = height - mT - mB;
  const iw = width - mL - mR;
  const marks = [
    Plot.gridX(xGrid, {stroke: "#d4d4d4", strokeOpacity: 1, strokeWidth: 1}),
    Plot.gridY(yGrid, {stroke: "#d4d4d4", strokeOpacity: 1, strokeWidth: 1}),
    Plot.line(gray, {x: "t", y: "v", z: "id", stroke: GRAY, strokeWidth: 1.35, clip: true}),
    Plot.line(mean, {x: "t", y: "v", stroke: "#000", strokeWidth: 1.4, clip: true}),
    Plot.ruleX(onset, {stroke: "#111", strokeWidth: 1.6, strokeDasharray: "6,4"}),
    Plot.frame({stroke: "#222", strokeWidth: 1.3}),
    Plot.ruleX(xTicks, {stroke: "#222", insetTop: ih - 6}),
    Plot.ruleX(xTicks, {stroke: "#222", insetBottom: ih - 6}),
    Plot.ruleY(yTicks, {stroke: "#222", insetRight: iw - 6}),
    Plot.ruleY(yTicks, {stroke: "#222", insetLeft: iw - 6}),
    Plot.axisX({ticks: xTicks, tickSize: 0, tickPadding: 9, label: null, tickFormat: d => String(d), fontSize: 19}),
    Plot.axisY({ticks: yTicks, tickSize: 0, tickPadding: 5, label: null, tickFormat: d => String(d), fontSize: 19})
  ];
  if (arrow) {
    const mid = (onset[0] + onset[1]) / 2;
    const arr = [{x1: mid, x2: onset[0]}, {x1: mid, x2: onset[1]}];
    marks.push(Plot.arrow(arr, {x1: "x1", x2: "x2", y1: () => arrowLevel, y2: () => arrowLevel, stroke: "#000", strokeWidth: 1.4, headLength: 9}));
    marks.push(Plot.text([t0Label], {x: "x", y: "y", text: () => "t", fontSize: 22, fontStyle: "italic", fill: "#000"}));
    marks.push(Plot.text([t0Label], {x: "x", y: "y", text: () => "0", fontSize: 16, fontStyle: "italic", fill: "#000", dx: 9, dy: 8}));
  }
  return Plot.plot({
    width, height, marginLeft: mL, marginRight: mR, marginTop: mT, marginBottom: mB,
    x: {domain: [-28, 60], axis: null, label: null},
    y: {domain: [0, 2], axis: null, label: null},
    style: {fontFamily: "'Liberation Sans', Arial, sans-serif", fontSize: "19px", color: "#111", background: "transparent", overflow: "visible"},
    marks
  });
}

const fig = document.getElementById("fig");
function place(el, left, top) {
  el.classList.add("panel");
  el.style.left = left + "px";
  el.style.top = top + "px";
  fig.appendChild(el);
}

place(panel({width: 545, height: 310, mL: 90, mR: 27, mT: 43, mB: 31,
  gray: grayRows([[T2, grayA], [T1, grayA1s]]), mean: rows(T1, meanA, "m"), onset: onsetA, arrow: true}), 0, 0);
place(panel({width: 546, height: 310, mL: 81, mR: 38, mT: 43, mB: 31,
  gray: grayRows([[T2, grayB], [T1, grayB1s], [extraBTimes, extraBValues]]), mean: rows(T1, meanB, "m"), onset: onsetB}), 545, 0);
place(panel({width: 545, height: 363, mL: 90, mR: 27, mT: 62, mB: 66,
  gray: grayRows([[T1, grayC]]), mean: rows(T1, meanC, "m"), onset: onsetC}), 0, 310);
place(panel({width: 546, height: 363, mL: 81, mR: 38, mT: 62, mB: 66,
  gray: grayRows([[T1, grayD]]), mean: rows(T1, meanD, "m"), onset: onsetD}), 545, 310);

// ---------- text overlay: panel letters, titles, axis labels ----------
const NS = "http://www.w3.org/2000/svg";
const ov = document.createElementNS(NS, "svg");
ov.setAttribute("id", "overlay");
ov.setAttribute("width", 1091);
ov.setAttribute("height", 673);
ov.innerHTML = `
<text x="12" y="24" font-size="18" font-weight="bold">A</text>
<text x="582" y="24" font-size="18" font-weight="bold">B</text>
<text x="12" y="353" font-size="18" font-weight="bold">C</text>
<text x="582" y="353" font-size="18" font-weight="bold">D</text>
<text x="304" y="37" font-size="18" font-weight="bold" text-anchor="middle" letter-spacing="0.6">Phasic SMM</text>
<text x="840" y="37" font-size="18" font-weight="bold" text-anchor="middle" letter-spacing="0.6">Tonic SMM</text>
<text x="304" y="366" font-size="18" font-weight="bold" text-anchor="middle" letter-spacing="0.6">Phasic SMM</text>
<text x="839" y="366" font-size="18" font-weight="bold" text-anchor="middle" letter-spacing="0.6">Tonic SMM</text>
<text transform="translate(27,161) rotate(-90)" font-size="19" text-anchor="middle" letter-spacing="0.7">Normalized<tspan dx="14" font-style="italic">f</tspan><tspan font-style="italic" font-size="15" dy="5">mot</tspan></text>
<text transform="translate(35,490) rotate(-90)" font-size="19" text-anchor="middle" letter-spacing="0.7">Normalized<tspan dx="14" font-style="italic">v</tspan></text>
<text x="303" y="664" font-size="19" text-anchor="middle" letter-spacing="0.7" xml:space="preserve">Time  (s)</text>
<text x="838" y="664" font-size="19" text-anchor="middle" letter-spacing="0.7" xml:space="preserve">Time  (s)</text>
`;
fig.appendChild(ov);
</script>
</body></html>
